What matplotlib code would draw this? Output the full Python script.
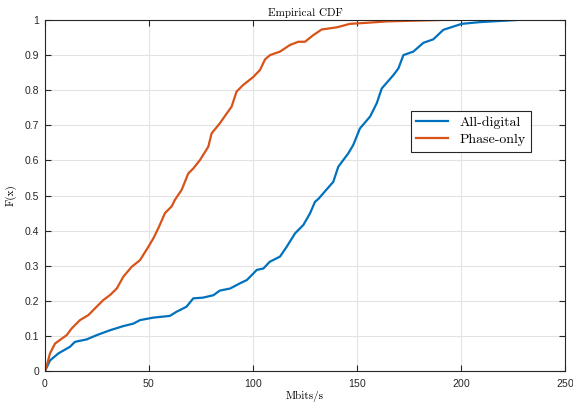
import matplotlib.pyplot as plt
import numpy as np

# values (Mbits/s, F(x))
digital_x = [0, 2.4, 6.4, 12, 14.4, 20, 24.8, 31.2, 37.7, 42.5, 45.7, 52, 60, 63.3, 68,
             71.3, 76, 81, 84, 89, 93.8, 97, 100.2, 101.8, 105, 108, 113, 116.2, 120.2,
             124.2, 127.4, 129.8, 131.4, 138.6, 141, 145.8, 148.2, 151.4, 156.3, 159.5,
             161.9, 167.5, 169.9, 172.3, 177.1, 181.9, 186.7, 191.5, 200.3, 209.1, 226.8]
digital_F = [0, 0.03, 0.05, 0.069, 0.083, 0.09, 0.102, 0.116, 0.128, 0.135, 0.145, 0.152,
             0.157, 0.169, 0.183, 0.207, 0.209, 0.216, 0.229, 0.235, 0.25, 0.259, 0.278,
             0.288, 0.292, 0.311, 0.326, 0.354, 0.392, 0.416, 0.449, 0.482, 0.49, 0.539,
             0.582, 0.62, 0.644, 0.691, 0.725, 0.763, 0.805, 0.843, 0.862, 0.9, 0.91,
             0.935, 0.945, 0.972, 0.989, 0.994, 1.0]

phase_x = [0, 1.1, 2.4, 4.8, 8, 10.4, 12.8, 16.8, 20.8, 24.8, 28, 31.2, 34.5, 37.7, 41.7,
           45.7, 49.7, 52.1, 54.5, 57.7, 60.9, 62.5, 65.7, 68.9, 71.3, 74.5, 78.5, 80.1,
           84.1, 87.4, 89.7, 92.1, 95.3, 100.2, 103.4, 105.8, 108.2, 113, 117.8, 121.8,
           125, 129, 133, 140.2, 146.6, 154.7, 164.3, 177, 190]
phase_F = [0, 0.021, 0.05, 0.078, 0.092, 0.102, 0.121, 0.145, 0.159, 0.183, 0.202, 0.216,
           0.235, 0.269, 0.297, 0.316, 0.354, 0.378, 0.407, 0.45, 0.469, 0.488, 0.516,
           0.563, 0.577, 0.601, 0.639, 0.677, 0.706, 0.734, 0.753, 0.796, 0.815, 0.838,
           0.858, 0.888, 0.9, 0.91, 0.929, 0.938, 0.938, 0.957, 0.973, 0.979, 0.989,
           0.992, 0.996, 0.998, 1.0]

x_ticks = [0, 50, 100, 150, 200, 250]
y_ticks = np.round(np.arange(0, 1.01, 0.1), 1)
y_labels = ["0", "0.1", "0.2", "0.3", "0.4", "0.5", "0.6", "0.7", "0.8", "0.9", "1"]

serif = ["cmr10", "DejaVu Serif"]
plt.rcParams["font.family"] = ["Liberation Sans", "DejaVu Sans"]
plt.rcParams["axes.formatter.use_mathtext"] = True

fig = plt.figure(figsize=(5.73, 4.05), dpi=100)
ax = fig.add_axes([45 / 573, 1 - 371 / 405, 520 / 573, 351 / 405])

ax.plot(digital_x, digital_F, color="#0072BD", lw=1.6, label="All-digital")
ax.plot(phase_x, phase_F, color="#D95319", lw=1.6, label="Phase-only")

ax.set_xlim(0, 250)
ax.set_ylim(0, 1)
ax.set_xticks(x_ticks)
ax.set_yticks(y_ticks)
ax.set_yticklabels(y_labels)
ax.grid(True, color="#e3e3e3", lw=0.8)
ax.set_axisbelow(True)
ax.tick_params(direction="in", top=True, right=True, length=4, width=0.8,
               labelsize=7.5, colors="#262626", pad=4)
for s in ax.spines.values():
    s.set_color("#262626")
    s.set_linewidth(0.8)

ax.set_title("Empirical CDF", family=serif, fontsize=8, pad=3)
ax.set_xlabel("Mbits/s", family=serif, fontsize=8, labelpad=2)
ax.set_ylabel("F(x)", family=serif, fontsize=8, labelpad=6)

leg = ax.legend(loc="center", bbox_to_anchor=(0.819, 0.683), prop={"family": serif, "size": 10},
                fancybox=False, edgecolor="#262626", framealpha=1, handlelength=2.3,
                borderpad=0.4, labelspacing=0.3)
leg.get_frame().set_linewidth(0.8)

fig.savefig("out.png", dpi=100)
